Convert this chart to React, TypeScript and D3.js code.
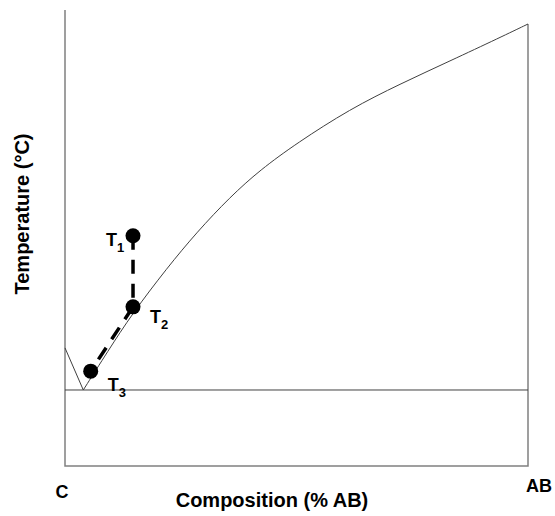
import React from "react";
import * as d3 from "d3";

// Liquidus curve (composition %AB, temperature in relative units)
const liquidusAB: [number, number][] = [
  [3.95, 16.67], [9.29, 25.22], [14.47, 33.33], [22.03, 43.42], [28.51, 51.32],
  [35.64, 58.99], [42.12, 64.91], [50.11, 70.83], [61.56, 78.29], [72.35, 83.77],
  [83.15, 88.82], [93.95, 93.97], [100, 96.93],
];
const liquidusC: [number, number][] = [[0, 25.9], [3.95, 16.67]];
const eutecticT = 16.67;
const pathPoints = [
  { name: "T", sub: "1", x: 14.69, y: 50.5 },
  { name: "T", sub: "2", x: 14.69, y: 34.9 },
  { name: "T", sub: "3", x: 5.55, y: 20.8 },
];
const endLabels = ["C", "AB"];
const xTitle = "Composition (% AB)";
const yTitle = "Temperature (°C)";

const W = 555, H = 516;

export default function App() {
  const x = d3.scaleLinear().domain([0, 100]).range([65, 528]);
  const y = d3.scaleLinear().domain([0, 100]).range([466, 10]);
  const line = d3.line<[number, number]>().x(d => x(d[0])).y(d => y(d[1]));
  const curve = d3.line<[number, number]>().x(d => x(d[0])).y(d => y(d[1])).curve(d3.curveBasis);
  const pts = pathPoints.map(p => [p.x, p.y] as [number, number]);
  const labelOffsets = [[-27, 10], [17, 16], [17, 20]];
  const font = "Liberation Sans, Arial, sans-serif";
  return (
    <svg width={W} height={H} style={{ position: "absolute", left: 0, top: 0, background: "#fff" }}>
      {/* axes frame */}
      <path d={line([[0, 100], [0, 0], [100, 0], [100, liquidusAB[liquidusAB.length - 1][1]]])!}
        fill="none" stroke="#808080" strokeWidth={1.5} />
      {/* eutectic line */}
      <path d={line([[0, eutecticT], [100, eutecticT]])!} fill="none" stroke="#404040" strokeWidth={1} />
      {/* liquidus lines */}
      <path d={line(liquidusC)!} fill="none" stroke="#404040" strokeWidth={1} />
      <path d={curve(liquidusAB)!} fill="none" stroke="#404040" strokeWidth={1} />
      {/* crystallization path */}
      <path d={line(pts)!} fill="none" stroke="#000" strokeWidth={3.5} strokeDasharray="14 10" />
      {pathPoints.map((p, i) => (
        <g key={i}>
          <circle cx={x(p.x)} cy={y(p.y)} r={7.5} fill="#000" />
          <text x={x(p.x) + labelOffsets[i][0]} y={y(p.y) + labelOffsets[i][1]}
            fontFamily={font} fontWeight="bold" fontSize={18} fill="#000">
            {p.name}
            <tspan fontSize={13} dy={6}>{p.sub}</tspan>
          </text>
        </g>
      ))}
      <text x={x(0) - 3} y={498} textAnchor="middle" fontFamily={font} fontWeight="bold" fontSize={18}>{endLabels[0]}</text>
      <text x={x(100) + 11} y={492} textAnchor="middle" fontFamily={font} fontWeight="bold" fontSize={18}>{endLabels[1]}</text>
      <text x={272} y={507} textAnchor="middle" fontFamily={font} fontWeight="bold" fontSize={20}>{xTitle}</text>
      <text transform={`translate(29, 214) rotate(-90)`} textAnchor="middle" fontFamily={font} fontWeight="bold" fontSize={20}>{yTitle}</text>
    </svg>
  );
}
